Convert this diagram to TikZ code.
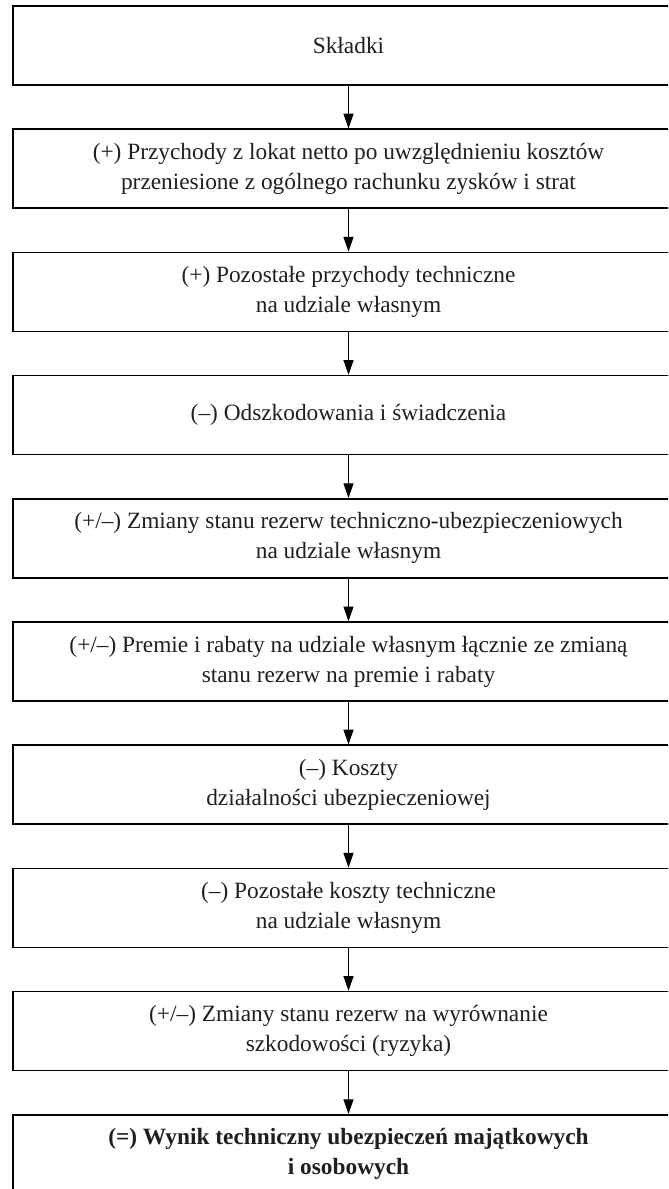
\documentclass[tikz,border=0pt]{standalone}
\usepackage{fontspec}
\setmainfont{Liberation Serif}
\usetikzlibrary{arrows.meta}
\begin{document}
\begin{tikzpicture}[x=0.75pt,y=-0.75pt,
  stepbox/.style={draw=black, line width=1.2pt, rectangle,
    minimum width=503.25pt, minimum height=59.25pt, align=center,
    font=\fontsize{17.5}{22.5}\selectfont, text=black!88, inner sep=0pt},
  flow/.style={line width=0.8pt, -{Triangle[length=11pt,width=7.5pt]}}]
\useasboundingbox (0,0) rectangle (668,1189);
\clip (0,0) rectangle (668,1189);
\node[stepbox] (b1) at (348.5,45.5) {Składki};
\node[stepbox] (b2) at (348.5,168.7) {(+) Przychody z lokat netto po uwzględnieniu kosztów\\przeniesione z ogólnego rachunku zysków i strat};
\node[stepbox] (b3) at (348.5,291.9) {(+) Pozostałe przychody techniczne\\na udziale własnym};
\node[stepbox] (b4) at (348.5,415.1) {(–) Odszkodowania i świadczenia};
\node[stepbox] (b5) at (348.5,538.3) {(+/–) Zmiany stanu rezerw techniczno-ubezpieczeniowych\\na udziale własnym};
\node[stepbox] (b6) at (348.5,661.5) {(+/–) Premie i rabaty na udziale własnym łącznie ze zmianą\\stanu rezerw na premie i rabaty};
\node[stepbox] (b7) at (348.5,784.7) {(–) Koszty\\działalności ubezpieczeniowej};
\node[stepbox] (b8) at (348.5,907.9) {(–) Pozostałe koszty techniczne\\na udziale własnym};
\node[stepbox] (b9) at (348.5,1031.1) {(+/–) Zmiany stanu rezerw na wyrównanie\\szkodowości (ryzyka)};
\node[stepbox] (b10) at (348.5,1154.3) {\bfseries (=) Wynik techniczny ubezpieczeń majątkowych\\\bfseries i osobowych};
\foreach \a/\b in {b1/b2,b2/b3,b3/b4,b4/b5,b5/b6,b6/b7,b7/b8,b8/b9,b9/b10}
  \draw[flow] (\a.south) -- (\b.north);
\end{tikzpicture}
\end{document}
